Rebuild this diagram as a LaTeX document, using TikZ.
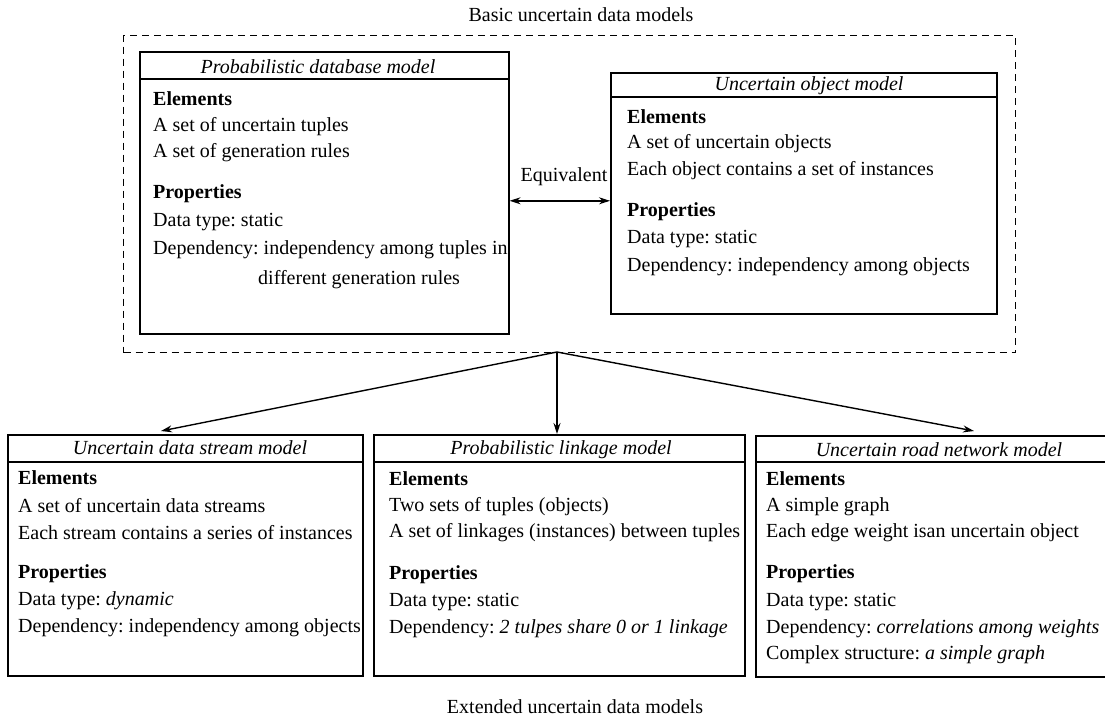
\documentclass[tikz,border=0pt]{standalone}
\usepackage{fontspec}
\setmainfont{Liberation Serif}
\usetikzlibrary{arrows.meta}
\newcommand\myfs{\fontsize{20}{24}\selectfont\frenchspacing}
\begin{document}
\begin{tikzpicture}[x=1pt,y=-1pt,
  box/.style={draw, line width=1.6pt, anchor=north west, inner sep=0pt},
  sep/.style={line width=1.6pt},
  txt/.style={anchor=west, inner sep=0pt, font=\myfs},
  hd/.style={anchor=west, inner sep=0pt, font=\myfs\bfseries},
  ttl/.style={inner sep=0pt, font=\myfs\itshape},
  lbl/.style={inner sep=0pt, font=\myfs},
  arr/.style={line width=1.4pt, -{Stealth[length=11pt,width=7pt]}},
  dbl/.style={line width=1.4pt, {Stealth[length=11pt,width=7pt]}-{Stealth[length=11pt,width=7pt]}}]
\clip (0,0) rectangle (1105,718);
\fill[white] (0,0) rectangle (1105,718);

% labels
\node[lbl] (basiclbl) at (581,15) {Basic uncertain data models};
\node[lbl] (extlbl) at (575,707) {Extended uncertain data models};

% dashed container
\node[box, line width=1.4pt, dashed, dash pattern=on 7pt off 5pt, minimum width=892pt, minimum height=317pt] (basic) at (123,35) {};

% Probabilistic database model
\node[box, minimum width=369pt, minimum height=282pt] (pdb) at (139,51) {};
\draw[sep] ([yshift=-28pt]pdb.north west) -- ([yshift=-28pt]pdb.north east);
\node[ttl] (pdbt) at (318,67) {Probabilistic database model};
\node[hd]  (pdb1) at (153,99) {Elements};
\node[txt] (pdb2) at (153,127) {A set of uncertain tuples};
\node[txt] (pdb3) at (153,153) {A set of generation rules};
\node[hd]  (pdb4) at (153,194) {Properties};
\node[txt] (pdb5) at (153,222) {Data type: static};
\node[txt] (pdb6) at (153,250) {Dependency: independency among tuples in};
\node[txt] (pdb7) at (258,280) {different generation rules};

% Uncertain object model
\node[box, minimum width=386pt, minimum height=241pt] (uo) at (610,72) {};
\draw[sep] ([yshift=-25pt]uo.north west) -- ([yshift=-25pt]uo.north east);
\node[ttl] (uot) at (809,86) {Uncertain object model};
\node[hd]  (uo1) at (627,117) {Elements};
\node[txt] (uo2) at (627,144) {A set of uncertain objects};
\node[txt] (uo3) at (627,171) {Each object contains a set of instances};
\node[hd]  (uo4) at (627,212) {Properties};
\node[txt] (uo5) at (627,239) {Data type: static};
\node[txt] (uo6) at (627,267) {Dependency: independency among objects};

% Equivalent
\draw[dbl] ([yshift=-8pt]pdb.east) -- ([yshift=-7.5pt]uo.west);
\node[lbl] (eq) at (564,177) {Equivalent};

% Uncertain data stream model
\node[box, minimum width=355pt, minimum height=241pt] (b1) at (7,434) {};
\draw[sep] ([yshift=-28pt]b1.north west) -- ([yshift=-28pt]b1.north east);
\node[ttl] (b1t) at (190,448) {Uncertain data stream model};
\node[hd]  (b11) at (18,478) {Elements};
\node[txt] (b12) at (18,506) {A set of uncertain data streams};
\node[txt] (b13) at (18,533) {Each stream contains a series of instances};
\node[hd]  (b14) at (18,574) {Properties};
\node[txt] (b15) at (18,601) {Data type: \textit{dynamic}};
\node[txt] (b16) at (18,628) {Dependency: independency among objects};

% Probabilistic linkage model
\node[box, minimum width=371pt, minimum height=241pt] (b2) at (373,434) {};
\draw[sep] ([yshift=-28pt]b2.north west) -- ([yshift=-28pt]b2.north east);
\node[ttl] (b2t) at (561,450) {Probabilistic linkage model};
\node[hd]  (b21) at (389,479) {Elements};
\node[txt] (b22) at (389,507) {Two sets of tuples (objects)};
\node[txt] (b23) at (389,533) {A set of linkages (instances) between tuples};
\node[hd]  (b24) at (389,575) {Properties};
\node[txt] (b25) at (389,602) {Data type: static};
\node[txt] (b26) at (389,629) {Dependency: \textit{2 tulpes share 0 or 1 linkage}};

% Uncertain road network model
\node[box, minimum width=400pt, minimum height=241pt] (b3) at (755,435) {};
\draw[sep] ([yshift=-27pt]b3.north west) -- ([yshift=-27pt]b3.north east);
\node[ttl] (b3t) at (939,450) {Uncertain road network model};
\node[hd]  (b31) at (766,479) {Elements};
\node[txt] (b32) at (766,507) {A simple graph};
\node[txt] (b33) at (766,533) {Each edge weight isan uncertain object};
\node[hd]  (b34) at (766,574) {Properties};
\node[txt] (b35) at (766,602) {Data type: static};
\node[txt] (b36) at (766,629) {Dependency: \textit{correlations among weights}};
\node[txt] (b37) at (766,655) {Complex structure: \textit{a simple graph}};

% connectors
\coordinate (src) at (557,352);
\coordinate (t1) at (161,431);
\coordinate (t3) at (974,431);
\draw[arr] (src) -- (t1);
\draw[arr] (src) -- (b2.north -| src);
\draw[arr] (src) -- (t3);
\end{tikzpicture}
\end{document}
